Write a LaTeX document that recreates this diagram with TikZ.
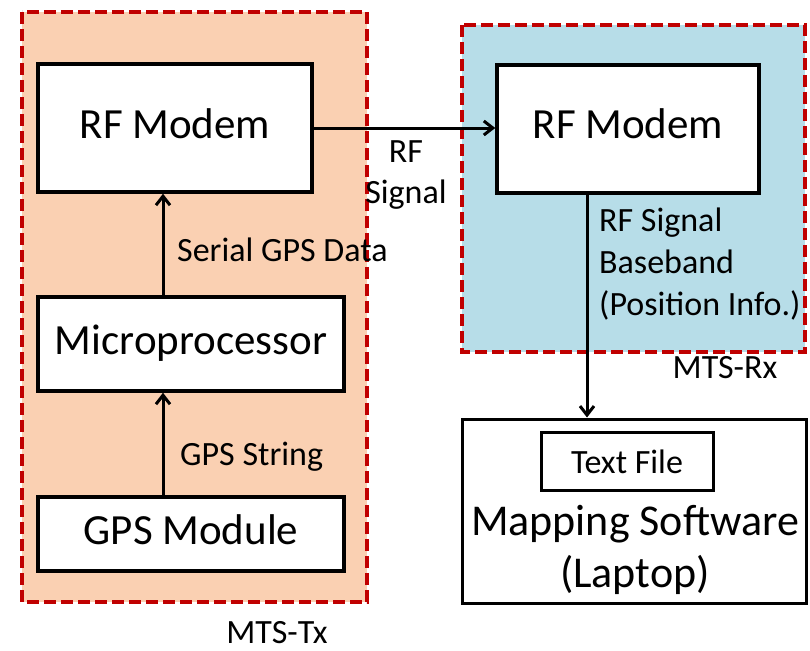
\documentclass[tikz,border=0pt]{standalone}
\usepackage{fontspec}
\setmainfont{Carlito}
\usetikzlibrary{arrows.meta}
\definecolor{txfill}{HTML}{FAD0B2}
\definecolor{rxfill}{HTML}{B7DDE8}
\definecolor{framered}{HTML}{C00000}

\begin{document}
\begin{tikzpicture}[x=1pt,y=-1pt,
  region/.style={draw=framered, line width=4pt, dash pattern=on 12pt off 5pt},
  block/.style={draw, line width=3.5pt, fill=white, inner sep=0pt,
    font=\fontsize{43}{51}\selectfont, text height=26pt, text depth=6pt},
  small/.style={font=\fontsize{34}{42}\selectfont, inner sep=0pt},
  link/.style={line width=3pt, -{Straight Barb[length=9pt,width=14pt]}}]

\useasboundingbox (0,0) rectangle (810,650);
\fill[white] (0,0) rectangle (810,650);

% transmitter and receiver groups
\filldraw[region, fill=txfill] (22,12) rectangle (367,602);
\filldraw[region, fill=rxfill] (462,25) rectangle (805,352);

% transmitter chain
\node[block, minimum width=274pt, minimum height=128pt] (txmodem) at (175,128) {RF Modem};
\node[block, minimum width=306pt, minimum height=94pt] (micro) at (191,344) {Microprocessor};
\node[block, minimum width=306pt, minimum height=74pt] (gps) at (191,534) {GPS Module};

% receiver
\node[block, minimum width=262pt, minimum height=128pt] (rxmodem) at (628,129) {RF Modem};

% laptop with its text file
\node[draw, line width=3pt, fill=white, inner sep=0pt,
      minimum width=344pt, minimum height=184pt] (laptop) at (634,511) {};
\node[draw, line width=3pt, small, text height=24pt, text depth=0pt,
      minimum width=172pt, minimum height=58pt] (textfile) at (627,461) {Text File};
% base anchor of a multi-line node sits on its last line
\node[anchor=base, align=center, inner sep=0pt,
      font=\fontsize{44}{52}\selectfont] (laptoptext) at (635,587) {Mapping Software\\(Laptop)};

% labels
\node[small, anchor=base west] (serial) at (177,261) {Serial GPS Data};
\node[small, anchor=base west] (gpsstr) at (180,465) {GPS String};
\node[small, anchor=base, align=center, font=\fontsize{34}{41}\selectfont] (rfsig) at (406,203) {RF\\Signal};
\node[small, anchor=base west, align=left] (baseband) at (599,315) {RF Signal\\Baseband\\(Position Info.)};
\node[small, anchor=base] (mtstx) at (277,643) {MTS-Tx};
\node[small, anchor=base] (mtsrx) at (725,378) {MTS-Rx};

% connectors
\coordinate (colL) at (163,0);
\coordinate (colR) at (587,0);
\draw[link] (gps.north -| colL) -- (micro.south -| colL);
\draw[link] (micro.north -| colL) -- (txmodem.south -| colL);
\draw[link] (txmodem.east) -- (rxmodem.west |- txmodem.east);
\draw[link] (rxmodem.south -| colR) -- (laptop.north -| colR);
\end{tikzpicture}
\end{document}
